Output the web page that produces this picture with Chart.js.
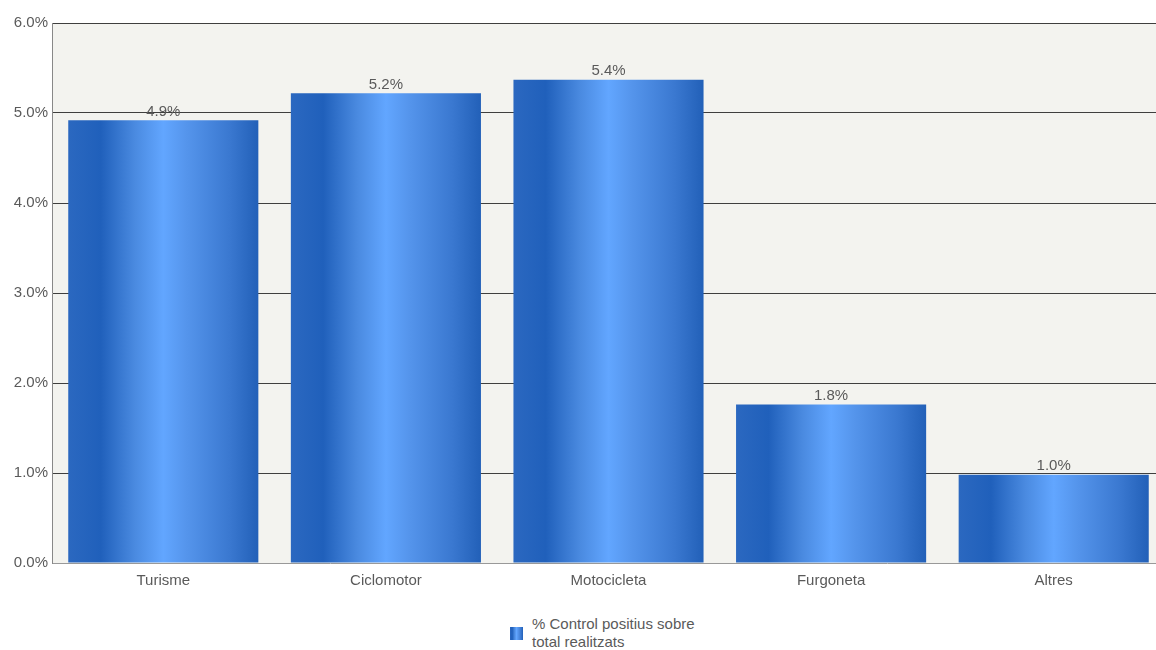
<!DOCTYPE html>
<html>
<head>
<meta charset="utf-8">
<script src="https://cdn.jsdelivr.net/npm/chart.js@4/dist/chart.umd.min.js"></script>
<style>
  html, body { margin: 0; padding: 0; background: #ffffff; overflow: hidden; width: 1156px; height: 650px; }
  #wrap { position: absolute; left: 0; top: 0; width: 1165px; height: 600px; }
  #legend { position: absolute; left: 510px; top: 615px; font-family: "Liberation Sans", Arial, sans-serif; font-size: 15px; color: #5a5a5a; line-height: 18px; }
  #legend .box { position: absolute; left: 0; top: 12px; width: 13px; height: 13px;
    background: linear-gradient(to right, #2b68c0 0%, #2060bb 17%, #4a8ae0 35%, #62a6ff 50%, #5595ec 62%, #3a78d0 85%, #2260b8 100%); }
  #legend .txt { position: absolute; left: 22px; top: 0; white-space: nowrap; }
</style>
</head>
<body>
<div id="wrap"><canvas id="c"></canvas></div>
<div id="legend"><div class="box"></div><div class="txt">% Control positius sobre<br>total realitzats</div></div>
<script>
const categories = ["Turisme", "Ciclomotor", "Motocicleta", "Furgoneta", "Altres"];
const seriesName = "% Control positius sobre total realitzats";
const values = [4.92, 5.22, 5.37, 1.76, 0.98];
const yTicks = [0, 1, 2, 3, 4, 5, 6];

const FONT = "'Liberation Sans', Arial, sans-serif";
const BAR_PCT = 0.854;

function barGradient(ctx) {
  const chart = ctx.chart;
  const xs = chart.scales.x;
  if (!xs || !chart.chartArea || ctx.dataIndex === undefined) return '#3a78d0';
  const cx = xs.getPixelForValue(ctx.dataIndex);
  const catW = (chart.chartArea.right - chart.chartArea.left) / categories.length;
  const w = catW * BAR_PCT;
  const g = chart.ctx.createLinearGradient(cx - w / 2, 0, cx + w / 2, 0);
  g.addColorStop(0, '#2b68c0');
  g.addColorStop(0.17, '#2060bb');
  g.addColorStop(0.35, '#4a8ae0');
  g.addColorStop(0.50, '#62a6ff');
  g.addColorStop(0.62, '#5595ec');
  g.addColorStop(0.85, '#3a78d0');
  g.addColorStop(1, '#2260b8');
  return g;
}

const bgPlugin = {
  id: 'plotBg',
  beforeDraw(chart) {
    const a = chart.chartArea, c = chart.ctx;
    c.save();
    c.fillStyle = '#f3f3ef';
    c.fillRect(a.left, a.top, a.right - a.left, a.bottom - a.top);
    c.restore();
  }
};

const labelPlugin = {
  id: 'valLabels',
  afterDraw(chart) {
    const c = chart.ctx;
    const meta = chart.getDatasetMeta(0);
    c.save();
    c.font = '15px ' + FONT;
    c.fillStyle = '#5a5a5a';
    c.textAlign = 'center';
    c.textBaseline = 'bottom';
    meta.data.forEach((el, i) => {
      c.fillText(values[i].toFixed(1) + '%', el.x, el.y - 1);
    });
    c.restore();
  }
};

new Chart(document.getElementById('c'), {
  type: 'bar',
  data: {
    labels: categories,
    datasets: [{
      label: seriesName,
      data: values,
      backgroundColor: barGradient,
      borderWidth: 0,
      barPercentage: BAR_PCT,
      categoryPercentage: 1.0
    }]
  },
  options: {
    responsive: true,
    maintainAspectRatio: false,
    animation: false,
    layout: { padding: { top: 23, right: 0, left: 0, bottom: 0 } },
    plugins: { legend: { display: false }, tooltip: { enabled: false } },
    scales: {
      x: {
        grid: { display: false, drawTicks: false },
        border: { display: true, color: '#999999', width: 1 },
        ticks: { font: { family: FONT, size: 15 }, color: '#5a5a5a', padding: 9 },
        afterFit(s) { s.height = 37; }
      },
      y: {
        min: 0, max: 6,
        z: 1,
        afterBuildTicks(s) { s.ticks = yTicks.map(v => ({ value: v })); },
        grid: {
          drawTicks: false,
          color: (ctx) => (ctx.tick && ctx.tick.value === 0) ? 'rgba(0,0,0,0)' : 'rgba(30,30,30,0.85)',
          lineWidth: 1
        },
        border: { display: true, color: '#888888', width: 1 },
        ticks: {
          font: { family: FONT, size: 15 }, color: '#5a5a5a', padding: 4,
          callback: (v) => Number(v).toFixed(1) + '%'
        },
        afterFit(s) { s.width = 52; }
      }
    }
  },
  plugins: [bgPlugin, labelPlugin]
});
</script>
</body>
</html>
